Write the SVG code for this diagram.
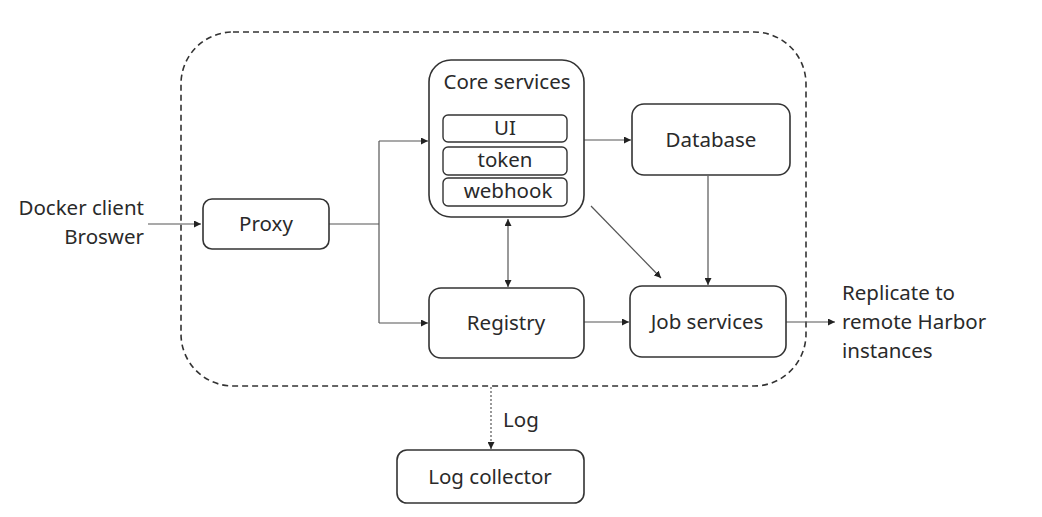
<svg xmlns="http://www.w3.org/2000/svg" width="1042" height="517" viewBox="0 0 1042 517">
<style>
text{font-family:"Noto Sans","Open Sans",sans-serif;font-size:20.5px;fill:#2a2a2a}
.node{fill:#fff;stroke:#333;stroke-width:1.6}
.sub{fill:#fff;stroke:#333;stroke-width:1.4}
.c{fill:none;stroke:#555;stroke-width:1.2}
</style>
<defs>
<marker id="ah" viewBox="0 0 10 10" refX="10" refY="5" markerWidth="7" markerHeight="7" orient="auto-start-reverse" markerUnits="userSpaceOnUse"><path d="M0,0 L10,5 L0,10 z" fill="#222"/></marker>
</defs>
<rect width="1042" height="517" fill="#fff"/>
<g id="container"><rect x="181" y="32" width="625" height="354" rx="52" fill="none" stroke="#333" stroke-width="1.6" stroke-dasharray="6,4"/></g>
<g id="connectors">
<line class="c" x1="148" y1="224" x2="201" y2="224" marker-end="url(#ah)"/>
<polyline class="c" points="329,224 379,224"/>
<polyline class="c" points="379,141 379,323"/>
<line class="c" x1="379" y1="141" x2="428" y2="141" marker-end="url(#ah)"/>
<line class="c" x1="379" y1="323" x2="428" y2="323" marker-end="url(#ah)"/>
<line class="c" x1="584" y1="140" x2="631" y2="140" marker-end="url(#ah)"/>
<line class="c" x1="508" y1="219" x2="508" y2="287" marker-start="url(#ah)" marker-end="url(#ah)"/>
<line class="c" x1="591" y1="206" x2="661" y2="278" marker-end="url(#ah)"/>
<line class="c" x1="708" y1="176" x2="708" y2="285" marker-end="url(#ah)"/>
<line class="c" x1="584" y1="322" x2="629" y2="322" marker-end="url(#ah)"/>
<line class="c" x1="786" y1="322" x2="835" y2="322" marker-end="url(#ah)"/>
<line class="c" x1="491" y1="387" x2="491" y2="449" stroke-dasharray="2,2" marker-end="url(#ah)"/>
</g>
<g id="client"><text x="144" y="215" text-anchor="end">Docker client</text><text x="144" y="244" text-anchor="end">Broswer</text></g>
<g id="proxy"><rect class="node" x="203" y="199" width="126" height="50" rx="9"/><text x="266" y="231" text-anchor="middle">Proxy</text></g>
<g id="core">
<rect class="node" x="429" y="60" width="155" height="157" rx="22"/>
<text x="507" y="89" text-anchor="middle">Core services</text>
<rect class="sub" x="443" y="115" width="124" height="27" rx="5"/><text x="505" y="135" text-anchor="middle">UI</text>
<rect class="sub" x="443" y="147" width="124" height="28" rx="5"/><text x="505" y="167" text-anchor="middle">token</text>
<rect class="sub" x="443" y="178" width="124" height="28" rx="5"/><text x="508" y="198" text-anchor="middle">webhook</text>
</g>
<g id="database"><rect class="node" x="632" y="104" width="158" height="71" rx="12"/><text x="711" y="147" text-anchor="middle">Database</text></g>
<g id="registry"><rect class="node" x="429" y="288" width="155" height="70" rx="12"/><text x="506" y="330" text-anchor="middle">Registry</text></g>
<g id="job"><rect class="node" x="630" y="286" width="156" height="71" rx="12"/><text x="707" y="329" text-anchor="middle">Job services</text></g>
<g id="replicate"><text x="842" y="300">Replicate to</text><text x="842" y="329">remote Harbor</text><text x="842" y="358">instances</text></g>
<g id="loglabel"><text x="503" y="427">Log</text></g>
<g id="logcollector"><rect class="node" x="397" y="450" width="187" height="53" rx="10"/><text x="490" y="484" text-anchor="middle">Log collector</text></g>
</svg>
